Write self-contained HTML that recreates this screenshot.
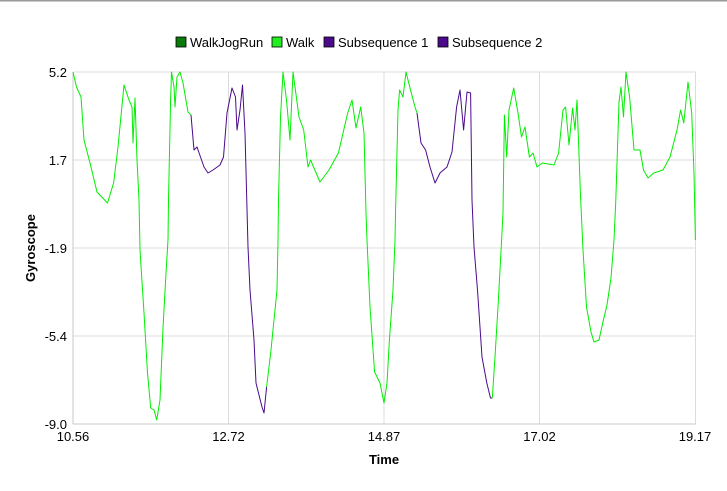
<!DOCTYPE html>
<html><head><style>
html,body{margin:0;padding:0;background:#fff;}
body{width:727px;height:486px;overflow:hidden;font-family:"Liberation Sans",Arial,sans-serif;}
</style></head><body>
<svg width="727" height="486" xmlns="http://www.w3.org/2000/svg" font-family="Liberation Sans, Arial, sans-serif">
<rect x="0" y="0" width="727" height="1.5" fill="#9a9a9a"/>
<g stroke="#dcdcdc" stroke-width="1">
<line x1="73" y1="72" x2="696" y2="72"/><line x1="73" y1="160" x2="696" y2="160"/>
<line x1="73" y1="248" x2="696" y2="248"/><line x1="73" y1="336" x2="696" y2="336"/>
<line x1="228.5" y1="72" x2="228.5" y2="424"/><line x1="384" y1="72" x2="384" y2="424"/>
<line x1="539.5" y1="72" x2="539.5" y2="424"/><line x1="695.5" y1="72" x2="695.5" y2="424"/>
</g>
<line x1="73" y1="424" x2="696" y2="424" stroke="#c8c8c8"/>
<line x1="73" y1="72" x2="73" y2="424" stroke="#c8c8c8"/>
<g font-size="13" fill="#000" text-anchor="end">
<text x="67" y="77">5.2</text><text x="67" y="165">1.7</text><text x="67" y="253">-1.9</text>
<text x="67" y="341">-5.4</text><text x="67" y="429">-9.0</text>
</g>
<g font-size="13" fill="#000" text-anchor="middle">
<text x="73" y="441">10.56</text><text x="228.5" y="441">12.72</text><text x="384" y="441">14.87</text>
<text x="539.5" y="441">17.02</text><text x="695" y="441">19.17</text>
</g>
<text x="384" y="464" font-size="13" font-weight="bold" text-anchor="middle">Time</text>
<text transform="translate(35,248) rotate(-90)" font-size="13" font-weight="bold" text-anchor="middle">Gyroscope</text>
<g font-size="13" fill="#000">
<rect x="176" y="37" width="10" height="10" fill="#0a7a0a" stroke="#000" stroke-width="0.8"/><text x="190" y="47">WalkJogRun</text>
<rect x="272" y="37" width="10" height="10" fill="#22ee22" stroke="#000" stroke-width="0.8"/><text x="286" y="47">Walk</text>
<rect x="324" y="37" width="10" height="10" fill="#4b0a8c" stroke="#000" stroke-width="0.8"/><text x="338" y="47">Subsequence 1</text>
<rect x="438" y="37" width="10" height="10" fill="#4b0a8c" stroke="#000" stroke-width="0.8"/><text x="452" y="47">Subsequence 2</text>
</g>
<g fill="none" stroke-width="1" stroke-linejoin="round">
<polyline stroke="#00ee00" points="73,72 76.5,87 81,97 84,140 90,163 97,192 107.5,203 113.6,183 118,147 124,85 129,100 132,107 133,143 135,98 137,160 139,200 140,250 144,313 147.5,373 150.7,408 154,410 156.7,420 160,400 163,328 166,273 168,240 168.5,200 170.6,100 171.5,72 174,87 175,107 177,77 180,72 183,83 188,112 191,115"/>
<polyline stroke="#4b0a8c" points="191,115 194,150 197,147 204,167 208,173 213,170 220,165 223.5,157 227,113 232,88 235.5,97 237,130 240,110 242.5,85 245,133 248,247 250,290 254,340 256,383 262,407 264,413 266.6,387"/>
<polyline stroke="#00ee00" points="266.6,387 271,350 277,290 278,240 278.5,200 280.5,117 283,72 286.5,100 290,140 293,72 299,117 303.7,130 308,167 310.6,160 320,182 329,170 338.4,153 347.7,113 352,100 356,128 360.7,107 364,133 366,213 367,240 370,307 374.6,372 380,383 384,403 387,383 389.4,340 393,290 395,240 395.5,213 398,110 399.6,90 403,97 406,72 410,88 415,107 417,113"/>
<polyline stroke="#4b0a8c" points="417,113 421,143 425.6,150 430,167 435,183 440,173 447,167 452,152 456.6,107 460,90 463.6,130 467,92 470.6,93 472,200 474,247 477.5,290 482,357 486.8,383 490.5,398 492.3,398"/>
<polyline stroke="#00ee00" points="492.3,398 495,357 498.4,300 501.6,240 503,213 504.4,115 506.7,157 509,110 513.7,88 518,113 521.5,137 525,127 529.4,157 533,153 537,167 542.4,163 554,165 558.6,153 563,110 565.6,107 569,145 572.6,108 575,130 577,100 580.4,193 583,250 586.5,307 591,332 594,342 599,340 602.7,323 607,305 611,278 614,240 615.7,203 619,102 621,87 623.5,117 626,72 629.6,97 634,150 640,150 643.5,170 648,178 653.7,173 663,170 670,157 677,130 680.6,110 683.8,123 688,82 691.7,113 694,173 695.4,240"/>
</g>
</svg>
</body></html>
